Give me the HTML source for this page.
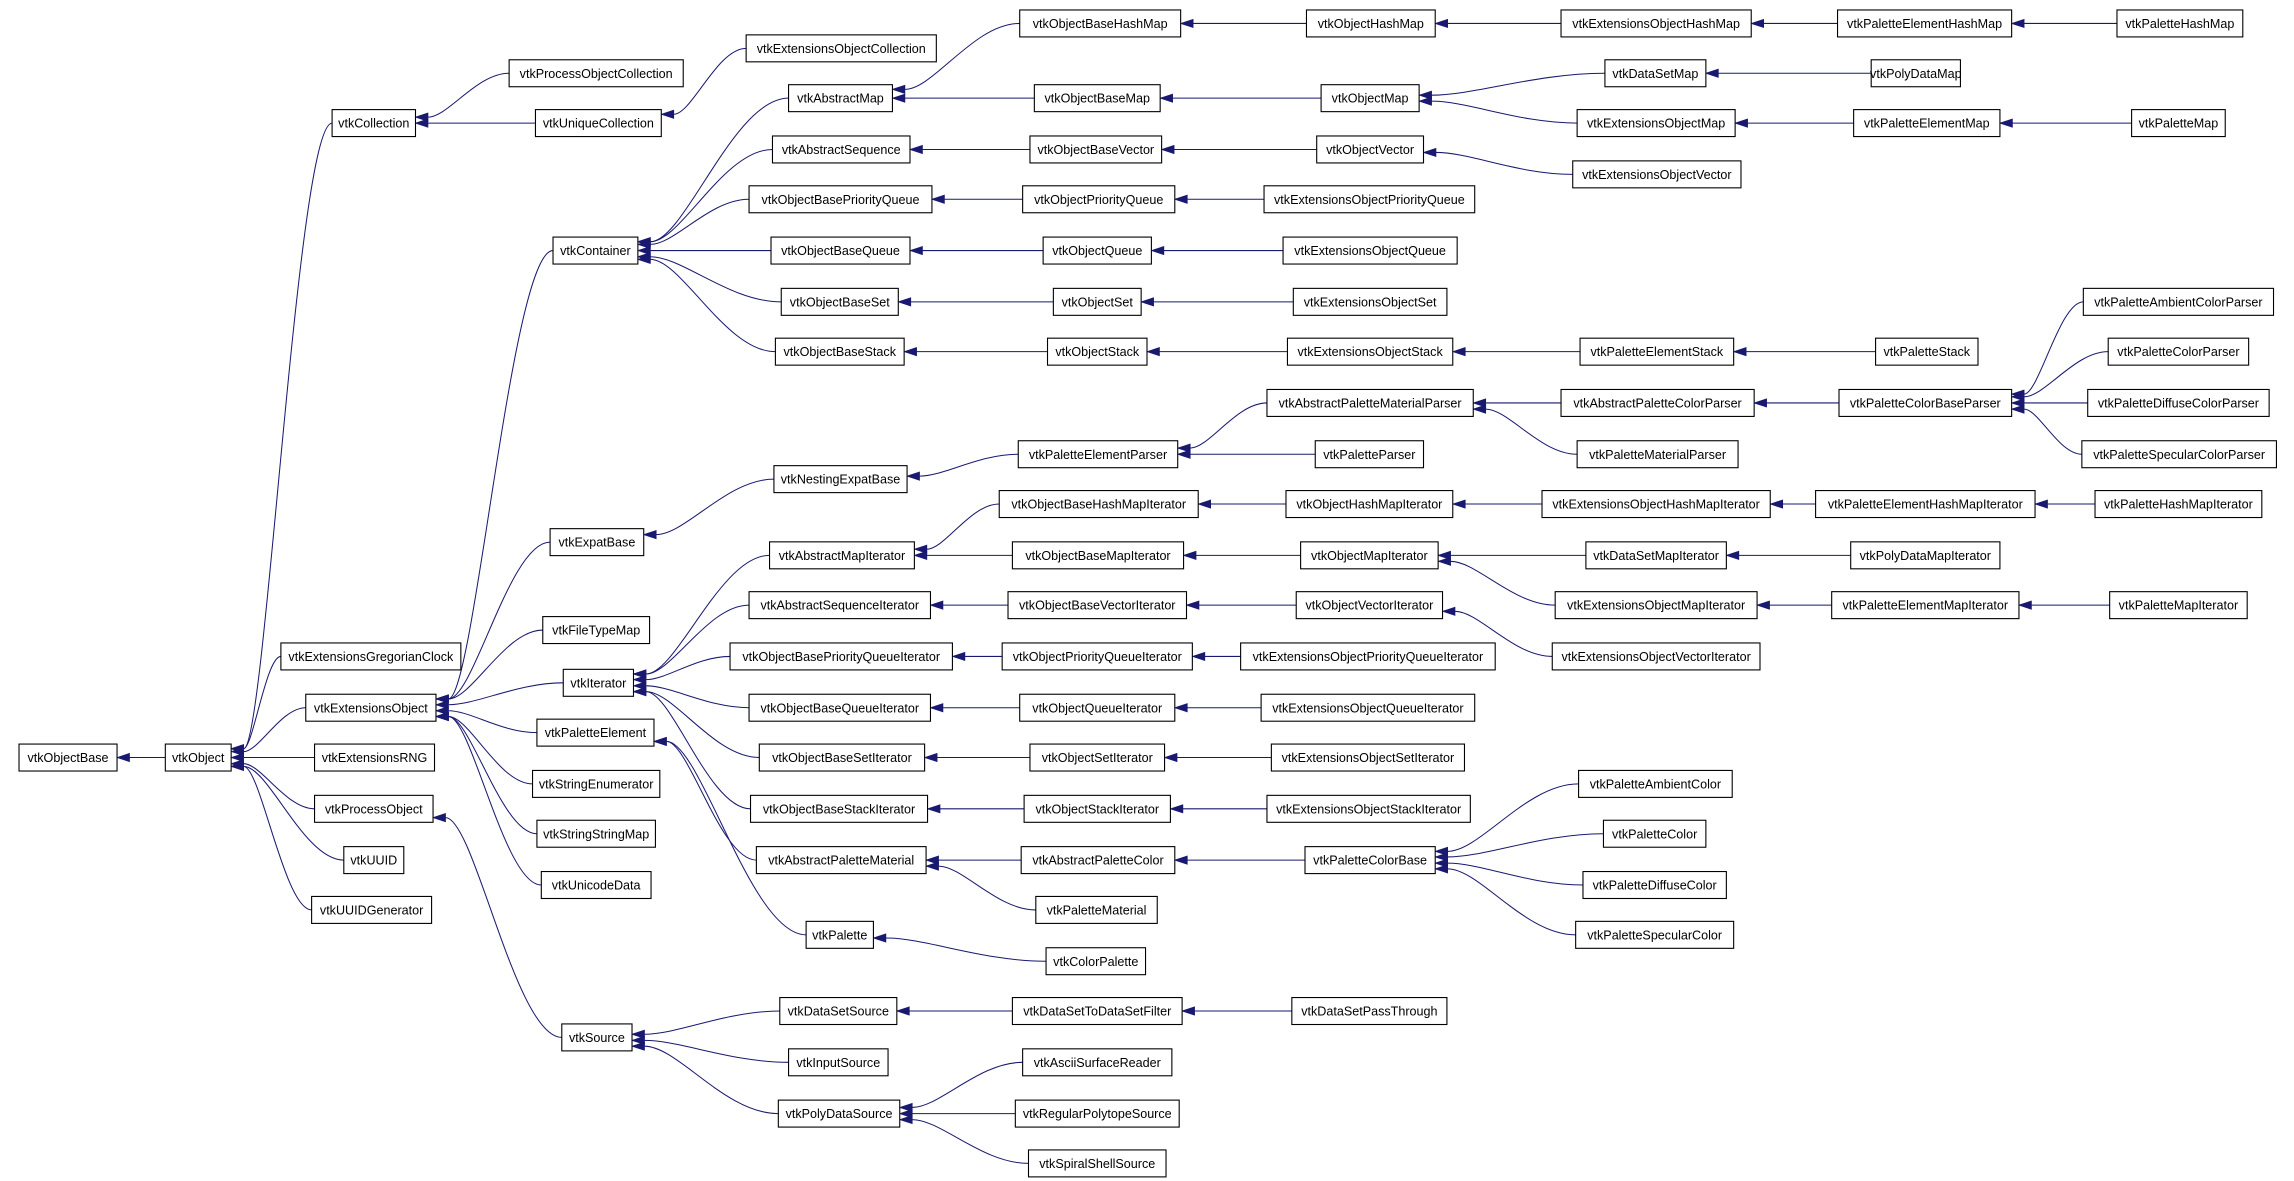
<!DOCTYPE html>
<html><head><meta charset="utf-8">
<style>
html,body{margin:0;padding:0;background:#fff;width:2294px;height:1181px;overflow:hidden}
svg{display:block}
rect{fill:#fff;stroke:#000;stroke-width:0.75}
text{font-family:"Liberation Sans",Arial,sans-serif;font-size:8.6px;fill:#000}
.e{fill:none;stroke:#191970;stroke-width:0.7}
.a{fill:#191970;stroke:#191970;stroke-width:0.5}
</style></head><body>
<svg id="s" width="2294" height="1181" viewBox="0 -1 1568 806" preserveAspectRatio="none" xmlns="http://www.w3.org/2000/svg">
<g id="edges"></g>
<g id="nodes">
<g id="vtkObjectBaseHashMap" data-y="15"><rect x="697" width="110"/><text>vtkObjectBaseHashMap</text></g>
<g id="vtkObjectHashMap" data-y="15"><rect x="893" width="88"/><text>vtkObjectHashMap</text></g>
<g id="vtkExtensionsObjectHashMap" data-y="15"><rect x="1067" width="130"/><text>vtkExtensionsObjectHashMap</text></g>
<g id="vtkPaletteElementHashMap" data-y="15"><rect x="1256" width="119"/><text>vtkPaletteElementHashMap</text></g>
<g id="vtkPaletteHashMap" data-y="15"><rect x="1447" width="86"/><text>vtkPaletteHashMap</text></g>
<g id="vtkExtensionsObjectCollection" data-y="32"><rect x="510" width="130"/><text>vtkExtensionsObjectCollection</text></g>
<g id="vtkProcessObjectCollection" data-y="49"><rect x="348" width="119"/><text>vtkProcessObjectCollection</text></g>
<g id="vtkDataSetMap" data-y="49"><rect x="1097" width="69"/><text>vtkDataSetMap</text></g>
<g id="vtkPolyDataMap" data-y="49"><rect x="1279" width="61"/><text>vtkPolyDataMap</text></g>
<g id="vtkAbstractMap" data-y="66"><rect x="539" width="71"/><text>vtkAbstractMap</text></g>
<g id="vtkObjectBaseMap" data-y="66"><rect x="707" width="86"/><text>vtkObjectBaseMap</text></g>
<g id="vtkObjectMap" data-y="66"><rect x="903" width="67"/><text>vtkObjectMap</text></g>
<g id="vtkCollection" data-y="83"><rect x="227" width="57"/><text>vtkCollection</text></g>
<g id="vtkUniqueCollection" data-y="83"><rect x="366" width="86"/><text>vtkUniqueCollection</text></g>
<g id="vtkExtensionsObjectMap" data-y="83"><rect x="1078" width="108"/><text>vtkExtensionsObjectMap</text></g>
<g id="vtkPaletteElementMap" data-y="83"><rect x="1267" width="100"/><text>vtkPaletteElementMap</text></g>
<g id="vtkPaletteMap" data-y="83"><rect x="1457" width="64"/><text>vtkPaletteMap</text></g>
<g id="vtkAbstractSequence" data-y="101"><rect x="528" width="94"/><text>vtkAbstractSequence</text></g>
<g id="vtkObjectBaseVector" data-y="101"><rect x="704" width="90"/><text>vtkObjectBaseVector</text></g>
<g id="vtkObjectVector" data-y="101"><rect x="900" width="73"/><text>vtkObjectVector</text></g>
<g id="vtkExtensionsObjectVector" data-y="118"><rect x="1075" width="115"/><text>vtkExtensionsObjectVector</text></g>
<g id="vtkObjectBasePriorityQueue" data-y="135"><rect x="512" width="125"/><text>vtkObjectBasePriorityQueue</text></g>
<g id="vtkObjectPriorityQueue" data-y="135"><rect x="699" width="104"/><text>vtkObjectPriorityQueue</text></g>
<g id="vtkExtensionsObjectPriorityQueue" data-y="135"><rect x="864" width="144"/><text>vtkExtensionsObjectPriorityQueue</text></g>
<g id="vtkContainer" data-y="170"><rect x="378" width="58"/><text>vtkContainer</text></g>
<g id="vtkObjectBaseQueue" data-y="170"><rect x="527" width="95"/><text>vtkObjectBaseQueue</text></g>
<g id="vtkObjectQueue" data-y="170"><rect x="713" width="74"/><text>vtkObjectQueue</text></g>
<g id="vtkExtensionsObjectQueue" data-y="170"><rect x="877" width="119"/><text>vtkExtensionsObjectQueue</text></g>
<g id="vtkObjectBaseSet" data-y="205"><rect x="534" width="80"/><text>vtkObjectBaseSet</text></g>
<g id="vtkObjectSet" data-y="205"><rect x="720" width="60"/><text>vtkObjectSet</text></g>
<g id="vtkExtensionsObjectSet" data-y="205"><rect x="884" width="105"/><text>vtkExtensionsObjectSet</text></g>
<g id="vtkPaletteAmbientColorParser" data-y="205"><rect x="1424" width="130"/><text>vtkPaletteAmbientColorParser</text></g>
<g id="vtkObjectBaseStack" data-y="239"><rect x="530" width="88"/><text>vtkObjectBaseStack</text></g>
<g id="vtkObjectStack" data-y="239"><rect x="716" width="68"/><text>vtkObjectStack</text></g>
<g id="vtkExtensionsObjectStack" data-y="239"><rect x="880" width="113"/><text>vtkExtensionsObjectStack</text></g>
<g id="vtkPaletteElementStack" data-y="239"><rect x="1080" width="105"/><text>vtkPaletteElementStack</text></g>
<g id="vtkPaletteStack" data-y="239"><rect x="1282" width="70"/><text>vtkPaletteStack</text></g>
<g id="vtkPaletteColorParser" data-y="239"><rect x="1441" width="96"/><text>vtkPaletteColorParser</text></g>
<g id="vtkAbstractPaletteMaterialParser" data-y="274"><rect x="866" width="141"/><text>vtkAbstractPaletteMaterialParser</text></g>
<g id="vtkAbstractPaletteColorParser" data-y="274"><rect x="1067" width="132"/><text>vtkAbstractPaletteColorParser</text></g>
<g id="vtkPaletteColorBaseParser" data-y="274"><rect x="1257" width="118"/><text>vtkPaletteColorBaseParser</text></g>
<g id="vtkPaletteDiffuseColorParser" data-y="274"><rect x="1427" width="124"/><text>vtkPaletteDiffuseColorParser</text></g>
<g id="vtkPaletteElementParser" data-y="309"><rect x="696" width="109"/><text>vtkPaletteElementParser</text></g>
<g id="vtkPaletteParser" data-y="309"><rect x="899" width="74"/><text>vtkPaletteParser</text></g>
<g id="vtkPaletteMaterialParser" data-y="309"><rect x="1078" width="110"/><text>vtkPaletteMaterialParser</text></g>
<g id="vtkPaletteSpecularColorParser" data-y="309"><rect x="1423" width="133"/><text>vtkPaletteSpecularColorParser</text></g>
<g id="vtkNestingExpatBase" data-y="326"><rect x="529" width="91"/><text>vtkNestingExpatBase</text></g>
<g id="vtkObjectBaseHashMapIterator" data-y="343"><rect x="683" width="136"/><text>vtkObjectBaseHashMapIterator</text></g>
<g id="vtkObjectHashMapIterator" data-y="343"><rect x="879" width="114"/><text>vtkObjectHashMapIterator</text></g>
<g id="vtkExtensionsObjectHashMapIterator" data-y="343"><rect x="1054" width="156"/><text>vtkExtensionsObjectHashMapIterator</text></g>
<g id="vtkPaletteElementHashMapIterator" data-y="343"><rect x="1241" width="150"/><text>vtkPaletteElementHashMapIterator</text></g>
<g id="vtkPaletteHashMapIterator" data-y="343"><rect x="1432" width="114"/><text>vtkPaletteHashMapIterator</text></g>
<g id="vtkExpatBase" data-y="369"><rect x="376" width="64"/><text>vtkExpatBase</text></g>
<g id="vtkAbstractMapIterator" data-y="378"><rect x="526" width="99"/><text>vtkAbstractMapIterator</text></g>
<g id="vtkObjectBaseMapIterator" data-y="378"><rect x="692" width="117"/><text>vtkObjectBaseMapIterator</text></g>
<g id="vtkObjectMapIterator" data-y="378"><rect x="889" width="94"/><text>vtkObjectMapIterator</text></g>
<g id="vtkDataSetMapIterator" data-y="378"><rect x="1084" width="96"/><text>vtkDataSetMapIterator</text></g>
<g id="vtkPolyDataMapIterator" data-y="378"><rect x="1265" width="102"/><text>vtkPolyDataMapIterator</text></g>
<g id="vtkAbstractSequenceIterator" data-y="412"><rect x="512" width="124"/><text>vtkAbstractSequenceIterator</text></g>
<g id="vtkObjectBaseVectorIterator" data-y="412"><rect x="689" width="122"/><text>vtkObjectBaseVectorIterator</text></g>
<g id="vtkObjectVectorIterator" data-y="412"><rect x="886" width="100"/><text>vtkObjectVectorIterator</text></g>
<g id="vtkExtensionsObjectMapIterator" data-y="412"><rect x="1063" width="138"/><text>vtkExtensionsObjectMapIterator</text></g>
<g id="vtkPaletteElementMapIterator" data-y="412"><rect x="1252" width="128"/><text>vtkPaletteElementMapIterator</text></g>
<g id="vtkPaletteMapIterator" data-y="412"><rect x="1442" width="94"/><text>vtkPaletteMapIterator</text></g>
<g id="vtkFileTypeMap" data-y="429"><rect x="371" width="73"/><text>vtkFileTypeMap</text></g>
<g id="vtkExtensionsGregorianClock" data-y="447"><rect x="192" width="123"/><text>vtkExtensionsGregorianClock</text></g>
<g id="vtkObjectBasePriorityQueueIterator" data-y="447"><rect x="499" width="152"/><text>vtkObjectBasePriorityQueueIterator</text></g>
<g id="vtkObjectPriorityQueueIterator" data-y="447"><rect x="685" width="130"/><text>vtkObjectPriorityQueueIterator</text></g>
<g id="vtkExtensionsObjectPriorityQueueIterator" data-y="447"><rect x="848" width="174"/><text>vtkExtensionsObjectPriorityQueueIterator</text></g>
<g id="vtkExtensionsObjectVectorIterator" data-y="447"><rect x="1061" width="142"/><text>vtkExtensionsObjectVectorIterator</text></g>
<g id="vtkIterator" data-y="465"><rect x="385" width="48"/><text>vtkIterator</text></g>
<g id="vtkExtensionsObject" data-y="482"><rect x="209" width="89"/><text>vtkExtensionsObject</text></g>
<g id="vtkObjectBaseQueueIterator" data-y="482"><rect x="512" width="124"/><text>vtkObjectBaseQueueIterator</text></g>
<g id="vtkObjectQueueIterator" data-y="482"><rect x="697" width="106"/><text>vtkObjectQueueIterator</text></g>
<g id="vtkExtensionsObjectQueueIterator" data-y="482"><rect x="862" width="146"/><text>vtkExtensionsObjectQueueIterator</text></g>
<g id="vtkPaletteElement" data-y="499"><rect x="367" width="80"/><text>vtkPaletteElement</text></g>
<g id="vtkObjectBase" data-y="516"><rect x="13" width="67"/><text>vtkObjectBase</text></g>
<g id="vtkObject" data-y="516"><rect x="113" width="45"/><text>vtkObject</text></g>
<g id="vtkExtensionsRNG" data-y="516"><rect x="215" width="82"/><text>vtkExtensionsRNG</text></g>
<g id="vtkObjectBaseSetIterator" data-y="516"><rect x="519" width="113"/><text>vtkObjectBaseSetIterator</text></g>
<g id="vtkObjectSetIterator" data-y="516"><rect x="704" width="92"/><text>vtkObjectSetIterator</text></g>
<g id="vtkExtensionsObjectSetIterator" data-y="516"><rect x="869" width="132"/><text>vtkExtensionsObjectSetIterator</text></g>
<g id="vtkStringEnumerator" data-y="534"><rect x="364" width="87"/><text>vtkStringEnumerator</text></g>
<g id="vtkPaletteAmbientColor" data-y="534"><rect x="1079" width="105"/><text>vtkPaletteAmbientColor</text></g>
<g id="vtkProcessObject" data-y="551"><rect x="215" width="81"/><text>vtkProcessObject</text></g>
<g id="vtkObjectBaseStackIterator" data-y="551"><rect x="513" width="121"/><text>vtkObjectBaseStackIterator</text></g>
<g id="vtkObjectStackIterator" data-y="551"><rect x="700" width="100"/><text>vtkObjectStackIterator</text></g>
<g id="vtkExtensionsObjectStackIterator" data-y="551"><rect x="866" width="139"/><text>vtkExtensionsObjectStackIterator</text></g>
<g id="vtkStringStringMap" data-y="568"><rect x="367" width="81"/><text>vtkStringStringMap</text></g>
<g id="vtkPaletteColor" data-y="568"><rect x="1096" width="70"/><text>vtkPaletteColor</text></g>
<g id="vtkUUID" data-y="586"><rect x="235" width="41"/><text>vtkUUID</text></g>
<g id="vtkAbstractPaletteMaterial" data-y="586"><rect x="517" width="116"/><text>vtkAbstractPaletteMaterial</text></g>
<g id="vtkAbstractPaletteColor" data-y="586"><rect x="698" width="105"/><text>vtkAbstractPaletteColor</text></g>
<g id="vtkPaletteColorBase" data-y="586"><rect x="892" width="89"/><text>vtkPaletteColorBase</text></g>
<g id="vtkUnicodeData" data-y="603"><rect x="370" width="75"/><text>vtkUnicodeData</text></g>
<g id="vtkPaletteDiffuseColor" data-y="603"><rect x="1082" width="98"/><text>vtkPaletteDiffuseColor</text></g>
<g id="vtkUUIDGenerator" data-y="620"><rect x="213" width="82"/><text>vtkUUIDGenerator</text></g>
<g id="vtkPaletteMaterial" data-y="620"><rect x="708" width="83"/><text>vtkPaletteMaterial</text></g>
<g id="vtkPalette" data-y="637"><rect x="551" width="46"/><text>vtkPalette</text></g>
<g id="vtkPaletteSpecularColor" data-y="637"><rect x="1077" width="108"/><text>vtkPaletteSpecularColor</text></g>
<g id="vtkColorPalette" data-y="655"><rect x="715" width="68"/><text>vtkColorPalette</text></g>
<g id="vtkDataSetSource" data-y="689"><rect x="533" width="80"/><text>vtkDataSetSource</text></g>
<g id="vtkDataSetToDataSetFilter" data-y="689"><rect x="692" width="116"/><text>vtkDataSetToDataSetFilter</text></g>
<g id="vtkDataSetPassThrough" data-y="689"><rect x="883" width="106"/><text>vtkDataSetPassThrough</text></g>
<g id="vtkSource" data-y="707"><rect x="384" width="48"/><text>vtkSource</text></g>
<g id="vtkInputSource" data-y="724"><rect x="539" width="68"/><text>vtkInputSource</text></g>
<g id="vtkAsciiSurfaceReader" data-y="724"><rect x="699" width="102"/><text>vtkAsciiSurfaceReader</text></g>
<g id="vtkPolyDataSource" data-y="759"><rect x="532" width="83"/><text>vtkPolyDataSource</text></g>
<g id="vtkRegularPolytopeSource" data-y="759"><rect x="694" width="112"/><text>vtkRegularPolytopeSource</text></g>
<g id="vtkSpiralShellSource" data-y="793"><rect x="703" width="94"/><text>vtkSpiralShellSource</text></g>
</g>
</svg>
<script>
(function(){
var H=18.4,N={};
document.querySelectorAll('#nodes > g').forEach(function(g){
 var r=g.querySelector('rect'),t=g.querySelector('text');
 var x=+r.getAttribute('x'),w=+r.getAttribute('width'),y=+g.getAttribute('data-y');
 r.setAttribute('y',y-H/2);r.setAttribute('height',H);
 t.setAttribute('x',x+w/2);t.setAttribute('y',y+3.1);t.setAttribute('text-anchor','middle');
 N[g.id]={x1:x,x2:x+w,y:y};
});
var E=[
['vtkObjectBase','vtkObject'],
['vtkObject','vtkCollection','vtkExtensionsGregorianClock','vtkExtensionsObject','vtkExtensionsRNG','vtkProcessObject','vtkUUID','vtkUUIDGenerator'],
['vtkCollection','vtkProcessObjectCollection','vtkUniqueCollection'],
['vtkUniqueCollection','vtkExtensionsObjectCollection'],
['vtkProcessObject','vtkSource'],
['vtkExtensionsObject','vtkContainer','vtkExpatBase','vtkFileTypeMap','vtkIterator','vtkPaletteElement','vtkStringEnumerator','vtkStringStringMap','vtkUnicodeData'],
['vtkContainer','vtkAbstractMap','vtkAbstractSequence','vtkObjectBasePriorityQueue','vtkObjectBaseQueue','vtkObjectBaseSet','vtkObjectBaseStack'],
['vtkAbstractMap','vtkObjectBaseHashMap','vtkObjectBaseMap'],
['vtkObjectBaseHashMap','vtkObjectHashMap'],['vtkObjectHashMap','vtkExtensionsObjectHashMap'],['vtkExtensionsObjectHashMap','vtkPaletteElementHashMap'],['vtkPaletteElementHashMap','vtkPaletteHashMap'],
['vtkObjectBaseMap','vtkObjectMap'],['vtkObjectMap','vtkDataSetMap','vtkExtensionsObjectMap'],['vtkDataSetMap','vtkPolyDataMap'],['vtkExtensionsObjectMap','vtkPaletteElementMap'],['vtkPaletteElementMap','vtkPaletteMap'],
['vtkAbstractSequence','vtkObjectBaseVector'],['vtkObjectBaseVector','vtkObjectVector'],['vtkObjectVector','vtkExtensionsObjectVector'],
['vtkObjectBasePriorityQueue','vtkObjectPriorityQueue'],['vtkObjectPriorityQueue','vtkExtensionsObjectPriorityQueue'],
['vtkObjectBaseQueue','vtkObjectQueue'],['vtkObjectQueue','vtkExtensionsObjectQueue'],
['vtkObjectBaseSet','vtkObjectSet'],['vtkObjectSet','vtkExtensionsObjectSet'],
['vtkObjectBaseStack','vtkObjectStack'],['vtkObjectStack','vtkExtensionsObjectStack'],['vtkExtensionsObjectStack','vtkPaletteElementStack'],['vtkPaletteElementStack','vtkPaletteStack'],
['vtkExpatBase','vtkNestingExpatBase'],['vtkNestingExpatBase','vtkPaletteElementParser'],['vtkPaletteElementParser','vtkAbstractPaletteMaterialParser','vtkPaletteParser'],
['vtkAbstractPaletteMaterialParser','vtkAbstractPaletteColorParser','vtkPaletteMaterialParser'],['vtkAbstractPaletteColorParser','vtkPaletteColorBaseParser'],
['vtkPaletteColorBaseParser','vtkPaletteAmbientColorParser','vtkPaletteColorParser','vtkPaletteDiffuseColorParser','vtkPaletteSpecularColorParser'],
['vtkIterator','vtkAbstractMapIterator','vtkAbstractSequenceIterator','vtkObjectBasePriorityQueueIterator','vtkObjectBaseQueueIterator','vtkObjectBaseSetIterator','vtkObjectBaseStackIterator'],
['vtkAbstractMapIterator','vtkObjectBaseHashMapIterator','vtkObjectBaseMapIterator'],
['vtkObjectBaseHashMapIterator','vtkObjectHashMapIterator'],['vtkObjectHashMapIterator','vtkExtensionsObjectHashMapIterator'],['vtkExtensionsObjectHashMapIterator','vtkPaletteElementHashMapIterator'],['vtkPaletteElementHashMapIterator','vtkPaletteHashMapIterator'],
['vtkObjectBaseMapIterator','vtkObjectMapIterator'],['vtkObjectMapIterator','vtkDataSetMapIterator','vtkExtensionsObjectMapIterator'],['vtkDataSetMapIterator','vtkPolyDataMapIterator'],['vtkExtensionsObjectMapIterator','vtkPaletteElementMapIterator'],['vtkPaletteElementMapIterator','vtkPaletteMapIterator'],
['vtkAbstractSequenceIterator','vtkObjectBaseVectorIterator'],['vtkObjectBaseVectorIterator','vtkObjectVectorIterator'],['vtkObjectVectorIterator','vtkExtensionsObjectVectorIterator'],
['vtkObjectBasePriorityQueueIterator','vtkObjectPriorityQueueIterator'],['vtkObjectPriorityQueueIterator','vtkExtensionsObjectPriorityQueueIterator'],
['vtkObjectBaseQueueIterator','vtkObjectQueueIterator'],['vtkObjectQueueIterator','vtkExtensionsObjectQueueIterator'],
['vtkObjectBaseSetIterator','vtkObjectSetIterator'],['vtkObjectSetIterator','vtkExtensionsObjectSetIterator'],
['vtkObjectBaseStackIterator','vtkObjectStackIterator'],['vtkObjectStackIterator','vtkExtensionsObjectStackIterator'],
['vtkPaletteElement','vtkAbstractPaletteMaterial','vtkPalette'],['vtkAbstractPaletteMaterial','vtkAbstractPaletteColor','vtkPaletteMaterial'],['vtkAbstractPaletteColor','vtkPaletteColorBase'],
['vtkPaletteColorBase','vtkPaletteAmbientColor','vtkPaletteColor','vtkPaletteDiffuseColor','vtkPaletteSpecularColor'],['vtkPalette','vtkColorPalette'],
['vtkSource','vtkDataSetSource','vtkInputSource','vtkPolyDataSource'],['vtkDataSetSource','vtkDataSetToDataSetFilter'],['vtkDataSetToDataSetFilter','vtkDataSetPassThrough'],
['vtkPolyDataSource','vtkAsciiSurfaceReader','vtkRegularPolytopeSource','vtkSpiralShellSource']
];
var eg=document.getElementById('edges'),s='';
E.forEach(function(l){
 var p=N[l[0]];
 for(var i=1;i<l.length;i++){
  var c=N[l[i]];if(!p||!c)continue;
  var dy=c.y-p.y,off=Math.max(-6,Math.min(6,dy*0.12));
  var ey=p.y+off,ax=p.x2,ex=ax+8.5,sx=c.x1,sy=c.y;
  var k=(sx-ex)/2;
  s+='<path class="e" d="M'+sx+','+sy+' C'+(sx-k*0.8)+','+sy+' '+(ex+k*0.5)+','+ey+' '+ex+','+ey+'"/>';
  s+='<polygon class="a" points="'+ax+','+ey+' '+ex+','+(ey-2.8)+' '+ex+','+(ey+2.8)+'"/>';
 }
});
eg.innerHTML=s;
})();
</script>
</body></html>
